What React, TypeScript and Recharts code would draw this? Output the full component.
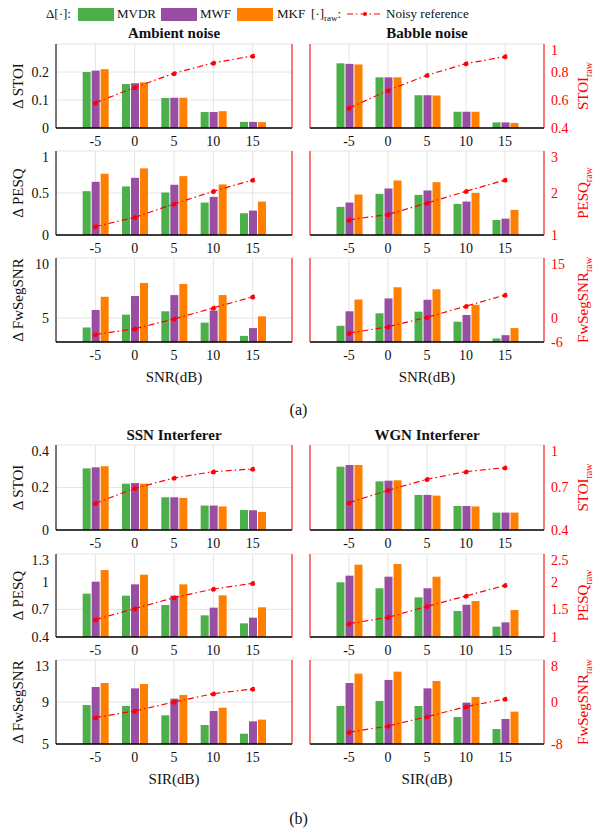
import React from "react";
import { ComposedChart, Bar, Line, XAxis, YAxis, CartesianGrid, Label } from "recharts";

const snr = [-5, 0, 5, 10, 15];

// (a) ambient / babble noise, x = SNR
const ambStoiMvdr = [0.2, 0.157, 0.107, 0.057, 0.022];
const ambStoiMwf = [0.205, 0.16, 0.108, 0.057, 0.022];
const ambStoiMkf = [0.21, 0.163, 0.108, 0.06, 0.021];
const ambStoiRaw = [0.58, 0.69, 0.79, 0.865, 0.915];

const babStoiMvdr = [0.231, 0.181, 0.117, 0.058, 0.02];
const babStoiMwf = [0.229, 0.181, 0.117, 0.058, 0.02];
const babStoiMkf = [0.227, 0.181, 0.116, 0.058, 0.018];
const babStoiRaw = [0.542, 0.668, 0.777, 0.86, 0.91];

const ambPesqMvdr = [0.522, 0.578, 0.506, 0.386, 0.259];
const ambPesqMwf = [0.633, 0.681, 0.598, 0.454, 0.291];
const ambPesqMkf = [0.729, 0.793, 0.701, 0.602, 0.398];
const ambPesqRaw = [1.2, 1.42, 1.74, 2.04, 2.31];

const babPesqMvdr = [0.335, 0.49, 0.478, 0.37, 0.179];
const babPesqMwf = [0.386, 0.554, 0.53, 0.398, 0.195];
const babPesqMkf = [0.482, 0.649, 0.629, 0.502, 0.299];
const babPesqRaw = [1.36, 1.49, 1.76, 2.04, 2.31];

const ambFwMvdr = [4.21, 5.28, 5.56, 4.61, 3.51];
const ambFwMwf = [5.67, 6.83, 6.91, 5.62, 4.16];
const ambFwMkf = [6.77, 7.92, 7.84, 6.91, 5.14];
const ambFwRaw = [-4.13, -2.7, -0.25, 2.53, 5.3];

const babFwMvdr = [4.35, 5.39, 5.53, 4.69, 3.29];
const babFwMwf = [5.56, 6.63, 6.52, 5.25, 3.57];
const babFwMkf = [6.54, 7.56, 7.39, 6.1, 4.16];
const babFwRaw = [-3.79, -2.19, 0.17, 2.95, 5.73];

// (b) SSN / WGN interferer, x = SIR
const ssnStoiMvdr = [0.29, 0.218, 0.154, 0.115, 0.094];
const ssnStoiMwf = [0.295, 0.221, 0.154, 0.115, 0.093];
const ssnStoiMkf = [0.3, 0.218, 0.151, 0.111, 0.085];
const ssnStoiRaw = [0.588, 0.694, 0.767, 0.812, 0.831];

const wgnStoiMvdr = [0.298, 0.229, 0.165, 0.113, 0.082];
const wgnStoiMwf = [0.306, 0.232, 0.165, 0.113, 0.082];
const wgnStoiMkf = [0.306, 0.234, 0.162, 0.111, 0.082];
const wgnStoiRaw = [0.593, 0.68, 0.758, 0.812, 0.84];

const ssnPesqMvdr = [0.87, 0.848, 0.747, 0.635, 0.548];
const ssnPesqMwf = [1.0, 0.971, 0.848, 0.718, 0.61];
const ssnPesqMkf = [1.126, 1.076, 0.971, 0.852, 0.722];
const ssnPesqRaw = [1.313, 1.512, 1.711, 1.867, 1.97];

const wgnPesqMvdr = [0.993, 0.928, 0.83, 0.682, 0.512];
const wgnPesqMwf = [1.065, 1.054, 0.928, 0.75, 0.559];
const wgnPesqMkf = [1.184, 1.191, 1.054, 0.79, 0.693];
const wgnPesqRaw = [1.241, 1.355, 1.554, 1.741, 1.934];

const ssnFwMvdr = [8.71, 8.62, 7.73, 6.81, 5.98];
const ssnFwMwf = [10.43, 10.3, 9.32, 8.14, 7.16];
const ssnFwMkf = [10.81, 10.71, 9.67, 8.46, 7.32];
const ssnFwRaw = [-2.98, -1.71, 0, 1.59, 2.48];

const wgnFwMvdr = [8.62, 9.1, 8.62, 7.57, 6.43];
const wgnFwMwf = [10.81, 11.1, 10.3, 8.94, 7.38];
const wgnFwMkf = [11.7, 11.89, 11.0, 9.48, 8.08];
const wgnFwRaw = [-5.78, -4.57, -2.79, -0.89, 0.57];

const GREEN = "#4daf4a";
const PURPLE = "#984ea3";
const ORANGE = "#ff7f00";
const RED = "#ff0000";
const INK = "#111";
const FONT = "Liberation Serif, serif";

type PanelProps = {
  x: number;
  y: number;
  w: number;
  h: number;
  side: "left" | "right";
  mvdr: number[];
  mwf: number[];
  mkf: number[];
  raw: number[];
  lDomain: [number, number];
  lTicks: number[];
  rDomain: [number, number];
  rTicks: number[];
  yLabel?: string;
  rLabel?: string;
  xLabel?: string;
};

function Panel(p: PanelProps) {
  const rows = snr.map((s, i) => ({
    snr: String(s),
    mvdr: p.mvdr[i],
    mwf: p.mwf[i],
    mkf: p.mkf[i],
    raw: p.raw[i],
  }));
  const isLeft = p.side === "left";
  const lw = isLeft ? 56 : 10;
  const rw = isLeft ? 8 : 53;
  const top = 2;
  const bottomH = p.xLabel ? 52 : 26;
  const pad = p.w / 12;
  const tickFont = { fill: INK, fontSize: 14, fontFamily: FONT };

  const yLab = () => {
    const cx = 23;
    const cy = top + p.h / 2;
    return (
      <text x={cx} y={cy} transform={`rotate(-90 ${cx} ${cy})`} textAnchor="middle" fontSize={15} fontFamily={FONT} fill={INK}>
        {p.yLabel}
      </text>
    );
  };
  const rLab = () => {
    const cx = lw + p.w + 44;
    const cy = top + p.h / 2;
    return (
      <text x={cx} y={cy} transform={`rotate(-90 ${cx} ${cy})`} textAnchor="middle" fontSize={15} fontFamily={FONT} fill={RED}>
        <tspan>{p.rLabel}</tspan>
        <tspan fontSize={10} dy={4}>raw</tspan>
      </text>
    );
  };
  const xLab = () => (
    <text x={lw + p.w / 2} y={top + p.h + 40} textAnchor="middle" fontSize={15} fontFamily={FONT} fill={INK}>
      {p.xLabel}
    </text>
  );

  return (
    <div style={{ position: "absolute", left: p.x - lw, top: p.y - top }}>
      <ComposedChart
        width={lw + p.w + rw}
        height={top + p.h + bottomH}
        data={rows}
        margin={{ top, right: 0, bottom: 0, left: 0 }}
        barSize={8}
        barGap={1}
        style={{ fontFamily: FONT }}
      >
        <CartesianGrid stroke="#e4e4e4" />
        <XAxis
          dataKey="snr"
          height={bottomH}
          padding={{ left: pad, right: pad }}
          interval={0}
          tickLine={false}
          tickSize={0}
          tickMargin={8}
          tick={tickFont}
          axisLine={{ stroke: "#000", strokeWidth: 1.4 }}
        >
          {p.xLabel && <Label content={xLab} />}
        </XAxis>
        <XAxis
          xAxisId="top"
          orientation="top"
          dataKey="snr"
          height={0}
          padding={{ left: pad, right: pad }}
          tick={false}
          tickLine={false}
          axisLine={{ stroke: "#444" }}
        />
        <YAxis
          width={lw}
          domain={p.lDomain}
          ticks={p.lTicks}
          allowDataOverflow
          tickLine={false}
          tickSize={0}
          tickMargin={7}
          tick={isLeft ? tickFont : false}
          axisLine={{ stroke: isLeft ? "#000" : RED }}
        >
          {isLeft && <Label content={yLab} />}
        </YAxis>
        <YAxis
          yAxisId="r"
          orientation="right"
          width={rw}
          domain={p.rDomain}
          ticks={p.rTicks}
          allowDataOverflow
          tickLine={false}
          tickSize={0}
          tickMargin={7}
          tick={isLeft ? false : { ...tickFont, fill: RED }}
          axisLine={{ stroke: RED }}
        >
          {!isLeft && <Label content={rLab} />}
        </YAxis>
        <Bar dataKey="mvdr" fill={GREEN} isAnimationActive={false} />
        <Bar dataKey="mwf" fill={PURPLE} isAnimationActive={false} />
        <Bar dataKey="mkf" fill={ORANGE} isAnimationActive={false} />
        <Line
          yAxisId="r"
          type="linear"
          dataKey="raw"
          stroke={RED}
          strokeWidth={1.2}
          strokeDasharray="6 3 1.5 3"
          dot={{ r: 2, fill: RED, stroke: RED }}
          isAnimationActive={false}
        />
      </ComposedChart>
    </div>
  );
}

const LX = 56;
const LW = 236;
const RX = 310;
const RW = 234;

function Title({ x, y, text }: { x: number; y: number; text: string }) {
  return (
    <div
      style={{
        position: "absolute",
        left: x - 100,
        width: 200,
        top: y - 10,
        height: 20,
        lineHeight: "20px",
        textAlign: "center",
        fontWeight: "bold",
        fontSize: 15,
        color: INK,
      }}
    >
      {text}
    </div>
  );
}

function Swatch({ x, color }: { x: number; color: string }) {
  return <div style={{ position: "absolute", left: x, top: 8, width: 36, height: 13, background: color }} />;
}

function Txt({ x, children }: { x: number; children: React.ReactNode }) {
  return (
    <div style={{ position: "absolute", left: x, top: 5, height: 18, lineHeight: "18px", fontSize: 13, color: INK, whiteSpace: "nowrap" }}>
      {children}
    </div>
  );
}

export default function App() {
  return (
    <div
      style={{
        position: "absolute",
        left: 0,
        top: 0,
        width: 597,
        height: 828,
        background: "#fff",
        fontFamily: FONT,
        overflow: "hidden",
      }}
    >
      {/* legend */}
      <Txt x={46}>Δ[·]:</Txt>
      <Swatch x={78} color={GREEN} />
      <Txt x={117}>MVDR</Txt>
      <Swatch x={161} color={PURPLE} />
      <Txt x={200}>MWF</Txt>
      <Swatch x={237} color={ORANGE} />
      <Txt x={277}>MKF</Txt>
      <Txt x={311}>
        [·]<sub style={{ fontSize: 9, verticalAlign: "-3px" }}>raw</sub>:
      </Txt>
      <svg style={{ position: "absolute", left: 346, top: 8 }} width={38} height={12}>
        <line x1={1} y1={6} x2={37} y2={6} stroke={RED} strokeWidth={1.2} strokeDasharray="6 3 1.5 3" />
        <circle cx={19} cy={6} r={2} fill={RED} />
      </svg>
      <Txt x={386}>Noisy reference</Txt>

      {/* (a) */}
      <Title x={LX + LW / 2} y={33} text="Ambient noise" />
      <Title x={RX + RW / 2} y={33} text="Babble noise" />
      <Panel x={LX} y={44} w={LW} h={84} side="left" mvdr={ambStoiMvdr} mwf={ambStoiMwf} mkf={ambStoiMkf} raw={ambStoiRaw}
        lDomain={[0, 0.3]} lTicks={[0, 0.1, 0.2]} rDomain={[0.4, 1]} rTicks={[0.4, 0.6, 0.8, 1]} yLabel="Δ STOI" />
      <Panel x={RX} y={44} w={RW} h={84} side="right" mvdr={babStoiMvdr} mwf={babStoiMwf} mkf={babStoiMkf} raw={babStoiRaw}
        lDomain={[0, 0.3]} lTicks={[0, 0.1, 0.2]} rDomain={[0.4, 1]} rTicks={[0.4, 0.6, 0.8, 1]} rLabel="STOI" />
      <Panel x={LX} y={151} w={LW} h={84} side="left" mvdr={ambPesqMvdr} mwf={ambPesqMwf} mkf={ambPesqMkf} raw={ambPesqRaw}
        lDomain={[0, 1]} lTicks={[0, 0.5, 1]} rDomain={[1, 3]} rTicks={[1, 2, 3]} yLabel="Δ PESQ" />
      <Panel x={RX} y={151} w={RW} h={84} side="right" mvdr={babPesqMvdr} mwf={babPesqMwf} mkf={babPesqMkf} raw={babPesqRaw}
        lDomain={[0, 1]} lTicks={[0, 0.5, 1]} rDomain={[1, 3]} rTicks={[1, 2, 3]} rLabel="PESQ" />
      <Panel x={LX} y={258} w={LW} h={84} side="left" mvdr={ambFwMvdr} mwf={ambFwMwf} mkf={ambFwMkf} raw={ambFwRaw}
        lDomain={[3, 10]} lTicks={[5, 10]} rDomain={[-6, 15]} rTicks={[-6, 0, 15]} yLabel="Δ FwSegSNR" xLabel="SNR(dB)" />
      <Panel x={RX} y={258} w={RW} h={84} side="right" mvdr={babFwMvdr} mwf={babFwMwf} mkf={babFwMkf} raw={babFwRaw}
        lDomain={[3, 10]} lTicks={[5, 10]} rDomain={[-6, 15]} rTicks={[-6, 0, 15]} rLabel="FwSegSNR" xLabel="SNR(dB)" />
      <div style={{ position: "absolute", left: 0, width: 597, top: 401, textAlign: "center", fontSize: 16, color: INK }}>(a)</div>

      {/* (b) */}
      <Title x={LX + LW / 2} y={435} text="SSN Interferer" />
      <Title x={RX + RW / 2} y={435} text="WGN Interferer" />
      <Panel x={LX} y={445} w={LW} h={85} side="left" mvdr={ssnStoiMvdr} mwf={ssnStoiMwf} mkf={ssnStoiMkf} raw={ssnStoiRaw}
        lDomain={[0, 0.4]} lTicks={[0, 0.2, 0.4]} rDomain={[0.4, 1]} rTicks={[0.4, 0.7, 1]} yLabel="Δ STOI" />
      <Panel x={RX} y={445} w={RW} h={85} side="right" mvdr={wgnStoiMvdr} mwf={wgnStoiMwf} mkf={wgnStoiMkf} raw={wgnStoiRaw}
        lDomain={[0, 0.4]} lTicks={[0, 0.2, 0.4]} rDomain={[0.4, 1]} rTicks={[0.4, 0.7, 1]} rLabel="STOI" />
      <Panel x={LX} y={554} w={LW} h={83} side="left" mvdr={ssnPesqMvdr} mwf={ssnPesqMwf} mkf={ssnPesqMkf} raw={ssnPesqRaw}
        lDomain={[0.4, 1.3]} lTicks={[0.4, 0.7, 1, 1.3]} rDomain={[1, 2.5]} rTicks={[1, 1.5, 2, 2.5]} yLabel="Δ PESQ" />
      <Panel x={RX} y={554} w={RW} h={83} side="right" mvdr={wgnPesqMvdr} mwf={wgnPesqMwf} mkf={wgnPesqMkf} raw={wgnPesqRaw}
        lDomain={[0.4, 1.3]} lTicks={[0.4, 0.7, 1, 1.3]} rDomain={[1, 2.5]} rTicks={[1, 1.5, 2, 2.5]} rLabel="PESQ" />
      <Panel x={LX} y={660} w={LW} h={84} side="left" mvdr={ssnFwMvdr} mwf={ssnFwMwf} mkf={ssnFwMkf} raw={ssnFwRaw}
        lDomain={[5, 13]} lTicks={[5, 9, 13]} rDomain={[-8, 8]} rTicks={[-8, 0, 8]} yLabel="Δ FwSegSNR" xLabel="SIR(dB)" />
      <Panel x={RX} y={660} w={RW} h={84} side="right" mvdr={wgnFwMvdr} mwf={wgnFwMwf} mkf={wgnFwMkf} raw={wgnFwRaw}
        lDomain={[5, 13]} lTicks={[5, 9, 13]} rDomain={[-8, 8]} rTicks={[-8, 0, 8]} rLabel="FwSegSNR" xLabel="SIR(dB)" />
      <div style={{ position: "absolute", left: 0, width: 597, top: 810, textAlign: "center", fontSize: 16, color: INK }}>(b)</div>
    </div>
  );
}
